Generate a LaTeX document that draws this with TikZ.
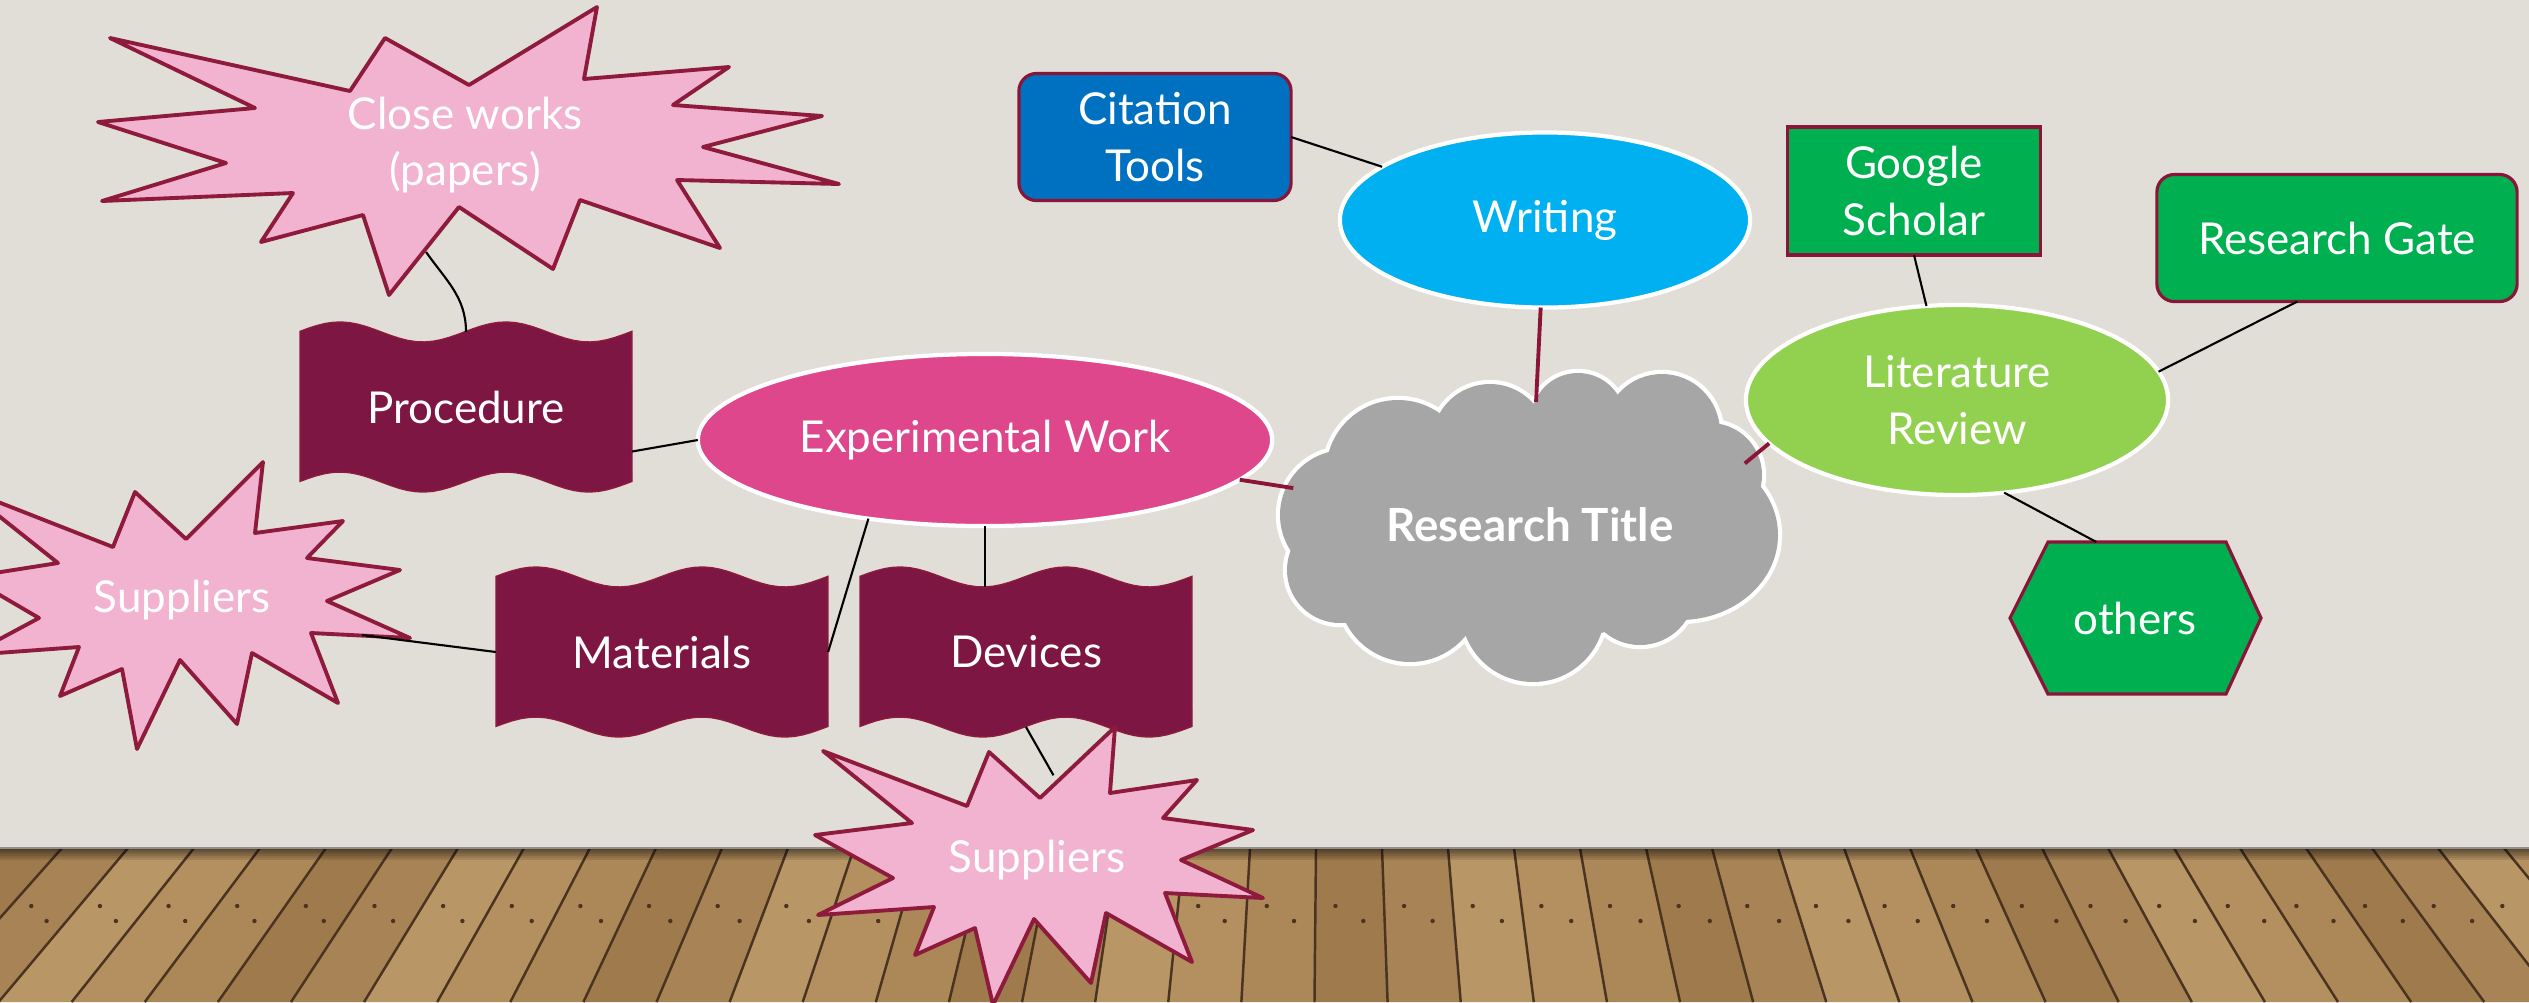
\documentclass[tikz,border=0pt]{standalone}
\usepackage{fontspec}
\setmainfont{Lato}
\usepackage{tikz}
\usetikzlibrary{calc}
\usetikzlibrary{shapes.geometric}

\definecolor{wall}{HTML}{E0DED7}
\definecolor{burstpink}{HTML}{F2B3D0}
\definecolor{burstline}{HTML}{8E1A3C}
\definecolor{plum}{HTML}{7D1643}
\definecolor{linkred}{HTML}{8B1538}
\definecolor{expink}{HTML}{DF478C}
\definecolor{citeblue}{HTML}{0070C0}
\definecolor{skyblue}{HTML}{00B0F0}
\definecolor{leafgreen}{HTML}{00B050}
\definecolor{limegreen}{HTML}{92D050}
\definecolor{cloudgray}{HTML}{A6A6A6}
\definecolor{wood0}{HTML}{A88355}
\definecolor{wood1}{HTML}{B48F60}
\definecolor{wood2}{HTML}{9F7A4C}
\definecolor{wood3}{HTML}{B89665}
\definecolor{wood4}{HTML}{AC8758}
\definecolor{groove}{HTML}{4A3320}

\tikzset{
	txt/.style={text=white, font=\fontsize{12.5}{16}\selectfont, align=center, inner sep=0pt, outer sep=0pt},
	burst/.style={fill=burstpink, draw=burstline, line width=1.1pt, line join=round},
	bubble/.style={txt, ellipse, draw=white, line width=1.2pt},
	tag/.style={txt, draw=linkred, line width=0.9pt},
	wire/.style={black, line width=0.6pt},
	redwire/.style={linkred, line width=1.1pt},
	wavebox/.pic={
		\filldraw[fill=plum, draw=burstline, line width=0.4pt]
			plot[domain=0:1, samples=41] ({-166+332*\x}, {-75-10*cos(720*(\x-0.12))})
			-- plot[domain=1:0, samples=41] ({-166+332*\x}, {75-10*cos(720*(\x-0.12))}) -- cycle;
	}
}

\begin{document}
\begin{tikzpicture}[x=0.01cm, y=-0.01cm]
	\useasboundingbox (0,0) rectangle (2529,1002);
	\clip (0,0) rectangle (2529,1002);

	% wall and floor
	\fill[wall] (0,0) rectangle (2529,848);
	\fill[wood0] (0,848) rectangle (2529,1002);
	\foreach \k in {-22,...,18} {
		\pgfmathsetmacro{\xa}{1382+66*\k}
		\pgfmathsetmacro{\xb}{\xa+66}
		\pgfmathtruncatemacro{\m}{mod(\k*3+90,5)}
		\fill[wood\m] (\xa,848) -- (\xb,848) -- ({\xb+(\xb-1330)*0.1077},1002) -- ({\xa+(\xa-1330)*0.1077},1002) -- cycle;
		\draw[groove, line width=0.7pt] (\xa,848) -- ({\xa+(\xa-1330)*0.1077},1002);
		\fill[groove] ({\xa+(\xa-1330)*0.04+20},906) circle[radius=2.2];
		\fill[groove] ({\xa+(\xa-1330)*0.05+48},921) circle[radius=2.2];
	}
	\foreach \i [evaluate=\i as \op using 0.5-0.08*\i] in {0,...,5}
		\fill[black, opacity=\op] (0,{848+2*\i}) rectangle (2529,{850+2*\i});
	\draw[black!35!wall, line width=0.6pt] (0,848) -- (2529,848);

	% experimental side
	\draw[burst] (110,38) -- (350,91) -- (385,38) -- (469,85) -- (597,7) -- (584,79) -- (729,67) -- (673,105)
		-- (822,116) -- (703,147) -- (839,184) -- (677,180) -- (720,248) -- (580,200) -- (553,269) -- (459,207)
		-- (389,295) -- (363,215) -- (261,242) -- (293,193) -- (102,201) -- (226,163) -- (98,122) -- (255,108) -- cycle;
	\node[txt, ellipse, minimum width=3.3cm, minimum height=2.2cm] (cwk) at (465,145) {Close works\\(papers)};

	\pic at (466,407) {wavebox};
	\node[txt, minimum width=3.32cm, minimum height=1.5cm] (proc) at (466,407) {Procedure};

	\node[bubble, fill=expink, minimum width=5.74cm, minimum height=1.72cm] (exp) at (985,440) {Experimental Work};

	\draw[burst] (-35,489) -- (113,547) -- (135,492) -- (186,539) -- (263,462) -- (255,533) -- (343,521) -- (307,558)
		-- (400,570) -- (327,601) -- (410,638) -- (311,633) -- (338,703) -- (252,653) -- (237,724) -- (180,660)
		-- (137,749) -- (122,669) -- (60,696) -- (79,647) -- (-30,655) -- (39,618) -- (-31,577) -- (58,563) -- cycle;
	\node[txt, ellipse, minimum width=3.8cm, minimum height=2.2cm] (sup1) at (182,600) {Suppliers};

	\pic at (662,652) {wavebox};
	\node[txt, minimum width=3.32cm, minimum height=1.5cm] (mat) at (662,652) {Materials};
	\pic at (1026,652) {wavebox};
	\node[txt, minimum width=3.32cm, minimum height=1.5cm] (dev) at (1026,652) {Devices};

	\draw[burst] (823,751) -- (967,806) -- (989,752) -- (1040,798) -- (1115,727) -- (1110,793) -- (1197,780) -- (1163,818)
		-- (1253,830) -- (1181,860) -- (1263,898) -- (1165,893) -- (1192,962) -- (1106,913) -- (1091,983) -- (1034,919)
		-- (993,1005) -- (975,928) -- (915,955) -- (934,907) -- (818,915) -- (893,878) -- (815,835) -- (912,823) -- cycle;
	\node[txt, ellipse, minimum width=3.8cm, minimum height=1.7cm] (sup2) at (1037,860) {Suppliers};

	% title cloud
	\foreach \cx/\cy/\r in {1398/472/72, 1490/442/58, 1578/420/47, 1662/432/58, 1710/475/52, 1640/590/55,
		1533/610/72, 1410/590/72, 1340/570/53, 1345/515/65}
		\draw[white, line width=2.4pt] (\cx,\cy) circle[radius=\r];
	\draw[white, line width=2.4pt] (1680,535) ellipse[x radius=98, y radius=85];
	\foreach \cx/\cy/\r in {1398/472/72, 1490/442/58, 1578/420/47, 1662/432/58, 1710/475/52, 1640/590/55,
		1533/610/72, 1410/590/72, 1340/570/53, 1345/515/65}
		\fill[cloudgray] (\cx,\cy) circle[radius=\r];
	\fill[cloudgray] (1680,535) ellipse[x radius=98, y radius=85];
	\fill[cloudgray] (1530,530) ellipse[x radius=200, y radius=110];
	\node[txt, ellipse, font=\fontsize{13}{16}\selectfont\bfseries, minimum width=4.96cm, minimum height=2.46cm] (title) at (1530,525) {Research Title};

	% writing and literature side
	\node[bubble, fill=skyblue, minimum width=4.1cm, minimum height=1.75cm] (wri) at (1545,220) {Writing};
	\node[tag, fill=citeblue, rounded corners=5pt, minimum width=2.72cm, minimum height=1.27cm] (cite) at (1155,137) {Citation\\Tools};
	\node[tag, fill=leafgreen, minimum width=2.53cm, minimum height=1.28cm] (gs) at (1914,191) {Google\\Scholar};
	\node[tag, fill=leafgreen, rounded corners=5pt, minimum width=3.6cm, minimum height=1.27cm] (rg) at (2337,238) {Research Gate};
	\node[bubble, fill=limegreen, minimum width=4.22cm, minimum height=1.9cm] (lit) at (1957,400) {Literature\\Review};
	\filldraw[fill=leafgreen, draw=linkred, line width=0.9pt] (2010,618) -- (2048,542) -- (2226,542) -- (2261,618) -- (2226,694) -- (2048,694) -- cycle;
	\node[txt, minimum width=2.51cm, minimum height=1.52cm] (oth) at (2135,618) {others};

	% connectors
	\draw[wire] (cite.east) -- (wri);
	\draw[redwire] (wri) -- (title);
	\draw[redwire] (exp) -- (title);
	\draw[redwire] (title.16) -- (lit.193);
	\draw[wire] (gs.south) -- (lit.108);
	\draw[wire] (rg.-122) -- (lit.8);
	\draw[wire] (lit.-63) -- (oth.117);
	\draw[wire] (proc.-15) -- (exp.west);
	\draw[wire] (proc.north) to[out=90, in=-55] (cwk.-110);
	\draw[wire] (exp.214) -- (mat.east);
	\draw[wire] (exp.south) -- ($(exp.south |- dev.north)+(0,10)$);
	\draw[wire] (mat.west) -- (sup1.-11);
	\draw[wire] (dev.south) -- (sup2.79);
\end{tikzpicture}
\end{document}
